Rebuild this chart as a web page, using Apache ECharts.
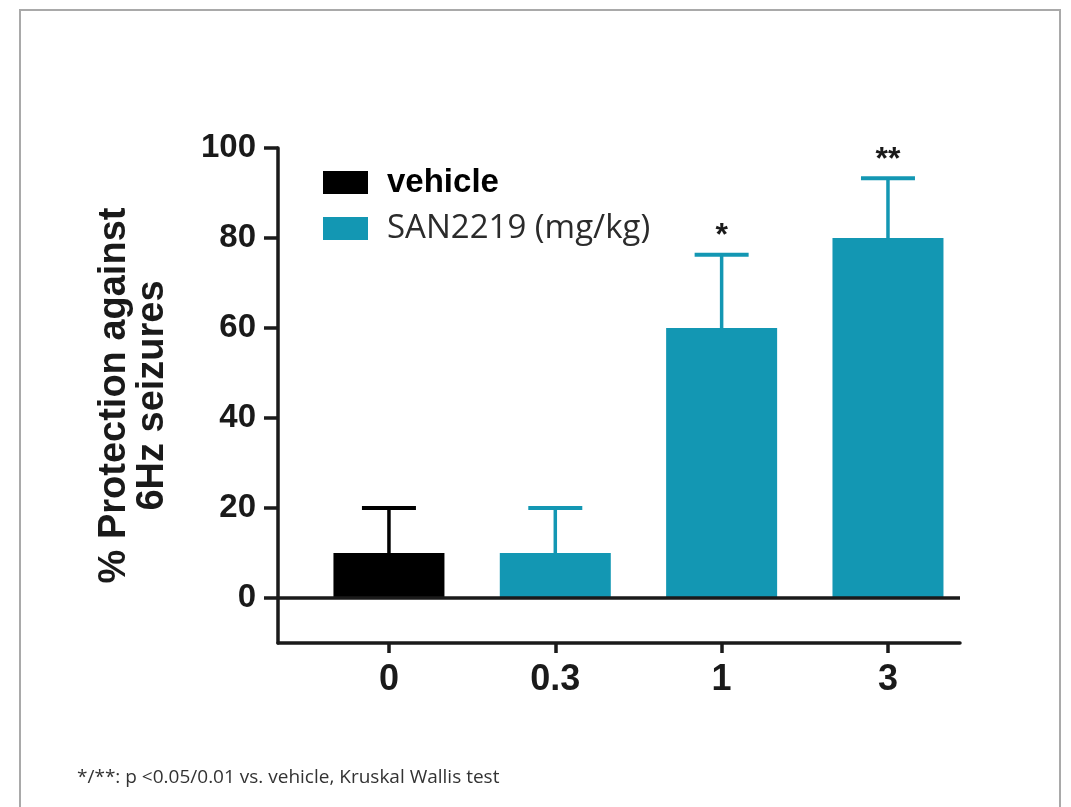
<!DOCTYPE html>
<html>
<head>
<meta charset="utf-8">
<script src="https://cdn.jsdelivr.net/npm/echarts@6/dist/echarts.min.js"></script>
<style>
  html, body { margin: 0; padding: 0; background: #ffffff; }
  #chart { width: 1071px; height: 807px; }
</style>
</head>
<body>
<div id="chart"></div>
<script>
// Dose groups on the x axis (mg/kg)
const doses = ['0', '0.3', '1', '3'];
const groupNames = ['vehicle', 'SAN2219 (mg/kg)'];

// % protection (mean) and SEM per group
const vehicleMean = [10];
const vehicleSem = [10];
const sanMean = [10, 60, 80];
const sanSem = [10, 16.3, 13.3];
const sanSignificance = ['', '*', '**'];

const yTicks = [0, 20, 40, 60, 80, 100];
const footnote = '*/**: p <0.05/0.01 vs. vehicle, Kruskal Wallis test';

const INK = '#1a1a1a';
const BLACK = '#000000';
const TEAL = '#1397b3';

// x positions: dose index along the axis
const vehicleX = [0];
const sanX = [1, 2, 3];

const vehicleBars = vehicleX.map((x, i) => [x, vehicleMean[i]]);
const sanBars = sanX.map((x, i) => [x, sanMean[i]]);
const vehicleErr = vehicleX.map((x, i) => [x, vehicleMean[i], vehicleMean[i] + vehicleSem[i]]);
const sanErr = sanX.map((x, i) => [x, sanMean[i], sanMean[i] + sanSem[i]]);

function errorBars(points, color, marks) {
  return {
    type: 'custom',
    data: points,
    z: 3,
    silent: true,
    renderItem(params, api) {
      const x = api.value(0);
      const base = api.coord([x, api.value(1)]);
      const top = api.coord([x, api.value(2)]);
      const half = 27;
      const children = [
        { type: 'line', shape: { x1: base[0], y1: base[1], x2: top[0], y2: top[1] },
          style: { stroke: color, lineWidth: 3.5 } },
        { type: 'line', shape: { x1: top[0] - half, y1: top[1], x2: top[0] + half, y2: top[1] },
          style: { stroke: color, lineWidth: 4 } }
      ];
      const mark = marks ? marks[params.dataIndex] : '';
      if (mark) {
        children.push({
          type: 'text',
          style: {
            text: mark, x: top[0], y: top[1] - 2,
            align: 'center', verticalAlign: 'bottom',
            font: 'bold 32px "Liberation Sans", Arial, sans-serif',
            fill: INK
          }
        });
      }
      return { type: 'group', children };
    }
  };
}

const chart = echarts.init(document.getElementById('chart'), null, { renderer: 'canvas' });

chart.setOption({
  animation: false,
  backgroundColor: '#ffffff',
  grid: { left: 278, right: 111, top: 148, bottom: 164, containLabel: false },
  graphic: [{
    type: 'rect', silent: true, z: -10,
    shape: { x: 20, y: 10, width: 1040, height: 840 },
    style: { fill: 'none', stroke: '#a9a9a9', lineWidth: 2 }
  }],
  title: {
    text: footnote, left: 72, top: 763,
    textStyle: { fontFamily: '"Open Sans", sans-serif', fontSize: 19, fontWeight: 'normal', color: '#333333' }
  },
  legend: {
    orient: 'vertical', left: 318, top: 161,
    itemWidth: 45, itemHeight: 23, itemGap: 13, icon: 'rect',
    selectedMode: false,
    data: [
      { name: groupNames[0], textStyle: { fontFamily: '"Liberation Sans", Arial, sans-serif', fontWeight: 'bold', fontSize: 33, color: BLACK, padding: [0, 0, 0, 14] } },
      { name: groupNames[1], textStyle: { fontFamily: '"Open Sans", sans-serif', fontWeight: 'normal', fontSize: 33, color: '#2b2b2b', padding: [0, 0, 0, 14] } }
    ]
  },
  xAxis: {
    type: 'value', min: -0.667, max: 3.433,
    axisLine: { show: true, onZero: false, lineStyle: { color: INK, width: 3.5 } },
    axisTick: { show: true, customValues: [0, 1, 2, 3], length: 10, lineStyle: { color: INK, width: 3.5 } },
    axisLabel: {
      customValues: [0, 1, 2, 3], margin: 19,
      formatter: v => doses[Math.round(v)],
      fontFamily: '"Liberation Sans", Arial, sans-serif', fontWeight: 'bold', fontSize: 36, color: INK
    },
    splitLine: { show: false }
  },
  yAxis: {
    type: 'value', min: -10, max: 100,
    name: '% Protection against\n6Hz seizures',
    nameLocation: 'middle', nameGap: 106, nameRotate: 90,
    nameTextStyle: { fontFamily: '"Liberation Sans", Arial, sans-serif', fontWeight: 'bold', fontSize: 38, lineHeight: 38, color: INK, align: 'center' },
    axisLine: { show: true, onZero: false, lineStyle: { color: INK, width: 3.5 } },
    axisTick: { show: true, customValues: yTicks, length: 14, lineStyle: { color: INK, width: 3.5 } },
    axisLabel: {
      customValues: yTicks, margin: 22, padding: [7, 0, 0, 0],
      fontFamily: '"Liberation Sans", Arial, sans-serif', fontWeight: 'bold', fontSize: 33, color: INK
    },
    splitLine: { show: false }
  },
  series: [
    {
      name: groupNames[0], type: 'bar', data: vehicleBars, barWidth: 111,
      itemStyle: { color: BLACK }, z: 2,
      markLine: {
        silent: true, symbol: 'none', label: { show: false },
        lineStyle: { color: INK, width: 3.5, type: 'solid' },
        data: [{ yAxis: 0 }]
      }
    },
    {
      name: groupNames[1], type: 'bar', data: sanBars, barWidth: 111, barGap: '-100%',
      itemStyle: { color: TEAL }, z: 2
    },
    errorBars(vehicleErr, BLACK, null),
    errorBars(sanErr, TEAL, sanSignificance)
  ]
});
</script>
</body>
</html>
